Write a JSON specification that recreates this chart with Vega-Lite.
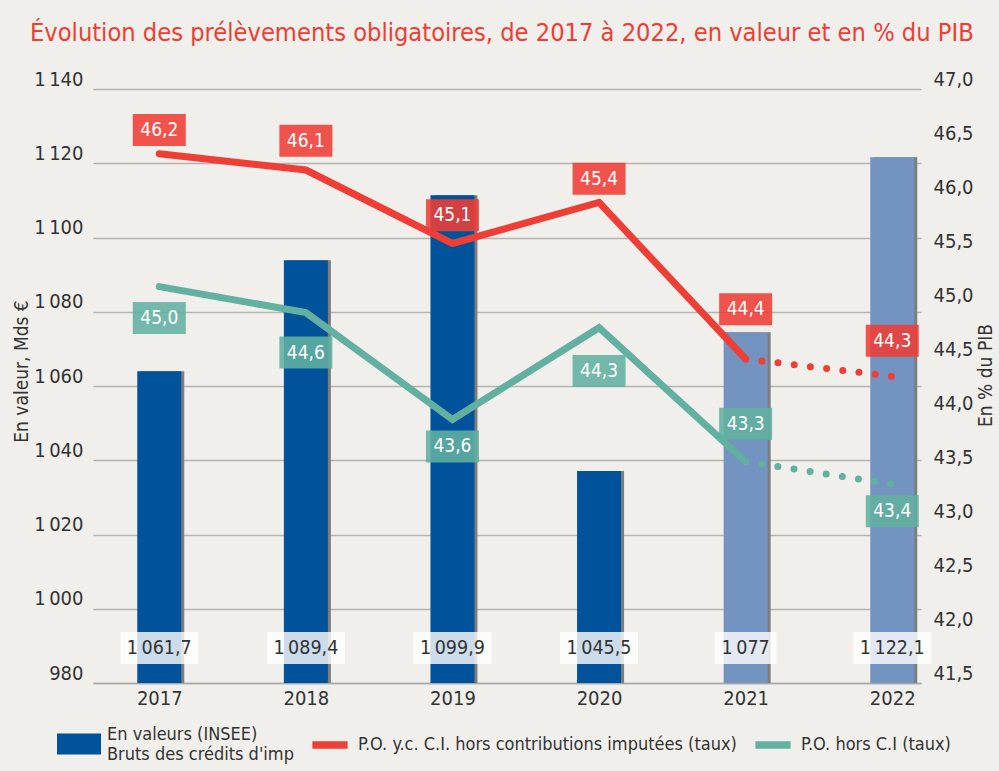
{
  "$schema": "https://vega.github.io/schema/vega-lite/v6.json",
  "width": 828,
  "height": 594,
  "autosize": {"type": "none"},
  "padding": {"left": 93, "top": 89, "right": 78, "bottom": 88},
  "background": "#f0efeb",
  "config": {
    "view": {"stroke": null},
    "font": "DejaVu Sans Condensed, Liberation Sans Narrow, Roboto Condensed, Roboto",
    "axis": {"labelFont": "DejaVu Sans Condensed, Liberation Sans Narrow, Roboto Condensed, Roboto", "titleFont": "DejaVu Sans Condensed, Liberation Sans Narrow, Roboto Condensed, Roboto", "labelColor": "#333333", "titleColor": "#333333", "titleFontWeight": "normal"}
  },
  "title": {
    "text": "Évolution des prélèvements obligatoires, de 2017 à 2022, en valeur et en % du PIB",
    "anchor": "start", "frame": "group", "font": "DejaVu Sans Condensed, Liberation Sans Narrow, Roboto Condensed, Roboto", "fontSize": 25.2, "fontWeight": "normal",
    "color": "#ee3e33", "dx": -63, "offset": 3, "baseline": "alphabetic"
  },
  "datasets": {
    "barres": [
      {"annee": 2017, "valeur": 1064.0, "etiquette": "1\u2009061,7", "serie": "En valeurs (INSEE)"},
      {"annee": 2018, "valeur": 1093.9, "etiquette": "1\u2009089,4", "serie": "En valeurs (INSEE)"},
      {"annee": 2019, "valeur": 1111.4, "etiquette": "1\u2009099,9", "serie": "En valeurs (INSEE)"},
      {"annee": 2020, "valeur": 1037.1, "etiquette": "1\u2009045,5", "serie": "En valeurs (INSEE)"},
      {"annee": 2021, "valeur": 1074.5, "etiquette": "1\u2009077", "serie": "En valeurs (INSEE)"},
      {"annee": 2022, "valeur": 1121.6, "etiquette": "1\u2009122,1", "serie": "En valeurs (INSEE)"}
    ],
    "taux": [
      {"annee": 2017, "serie": "P.O. y.c. C.I. hors contributions imputées (taux)", "taux": 46.40, "etiquette": "46,2", "pos": 46.62},
      {"annee": 2018, "serie": "P.O. y.c. C.I. hors contributions imputées (taux)", "taux": 46.25, "etiquette": "46,1", "pos": 46.52},
      {"annee": 2019, "serie": "P.O. y.c. C.I. hors contributions imputées (taux)", "taux": 45.57, "etiquette": "45,1", "pos": 45.83},
      {"annee": 2020, "serie": "P.O. y.c. C.I. hors contributions imputées (taux)", "taux": 45.95, "etiquette": "45,4", "pos": 46.17},
      {"annee": 2021, "serie": "P.O. y.c. C.I. hors contributions imputées (taux)", "taux": 44.50, "etiquette": "44,4", "pos": 44.96},
      {"annee": 2022, "serie": "P.O. y.c. C.I. hors contributions imputées (taux)", "taux": 44.34, "etiquette": "44,3", "pos": 44.67},
      {"annee": 2017, "serie": "P.O. hors C.I (taux)", "taux": 45.17, "etiquette": "45,0", "pos": 44.88},
      {"annee": 2018, "serie": "P.O. hors C.I (taux)", "taux": 44.93, "etiquette": "44,6", "pos": 44.56},
      {"annee": 2019, "serie": "P.O. hors C.I (taux)", "taux": 43.94, "etiquette": "43,6", "pos": 43.69},
      {"annee": 2020, "serie": "P.O. hors C.I (taux)", "taux": 44.79, "etiquette": "44,3", "pos": 44.39},
      {"annee": 2021, "serie": "P.O. hors C.I (taux)", "taux": 43.55, "etiquette": "43,3", "pos": 43.90},
      {"annee": 2022, "serie": "P.O. hors C.I (taux)", "taux": 43.34, "etiquette": "43,4", "pos": 43.09}
    ]
  },
  "encoding": {
    "x": {
      "field": "annee", "type": "quantitative",
      "scale": {"domain": [2016.582, 2022.162], "nice": false, "zero": false},
      "axis": {"values": [2017, 2018, 2019, 2020, 2021, 2022], "format": "d", "labelFontSize": 20, "labelPadding": 5, "ticks": false, "grid": false, "domainColor": "#a8a8a8", "domainWidth": 1.5, "title": null, "labelFlush": false, "labelOverlap": false}
    }
  },
  "layer": [
    {
      "data": {"name": "barres"},
      "layer": [
        {
          "mark": {"type": "bar", "size": 44, "xOffset": 3, "color": "#7d7d7d"},
          "encoding": {
            "y": {"field": "valeur", "type": "quantitative",
              "scale": {"domain": [980, 1140], "nice": false, "zero": false},
              "axis": {"orient": "left", "values": [980, 1000, 1020, 1040, 1060, 1080, 1100, 1120, 1140],
                "labelExpr": "replace(format(datum.value, ','), ',', '\u2009')",
                "labelFontSize": 20, "labelPadding": 10, "labelOffset": -10, "labelOverlap": false, "ticks": false, "domain": false,
                "grid": true, "gridColor": "#b3b3b3", "gridWidth": 1.3,
                "title": "En valeur, Mds €", "titleFontSize": 19, "titleX": -72, "titleY": 282, "titleBaseline": "middle", "titleAngle": 270}},
            "y2": {"datum": 980}
          }
        },
        {
          "mark": {"type": "bar", "size": 44},
          "encoding": {
            "y": {"field": "valeur", "type": "quantitative"},
            "y2": {"datum": 980},
            "color": {
              "condition": {"test": "datum.annee >= 2021", "value": "#7393c1"},
              "field": "serie", "type": "nominal",
              "scale": {"domain": ["En valeurs (INSEE)", "P.O. y.c. C.I. hors contributions imputées (taux)", "P.O. hors C.I (taux)"], "range": ["#00529b", "#ef3e36", "#61b0a0"]},
              "legend": {
                "orient": "none", "legendX": -36, "legendY": 624, "direction": "horizontal", "columns": 3, "title": null,
                "symbolSize": 1936, "labelFontSize": 18, "labelFont": "DejaVu Sans Condensed, Liberation Sans Narrow, Roboto Condensed, Roboto", "labelColor": "#333333",
                "labelLimit": 600, "labelOffset": 6, "columnPadding": 14, "padding": 0,
                "labelExpr": "datum.label == 'En valeurs (INSEE)' ? ['En valeurs (INSEE)', \"Bruts des crédits d'imp\"] : datum.label",
                "encode": {"symbols": {"update": {
                  "shape": {"signal": "datum.value == 'En valeurs (INSEE)' ? 'M-1,-0.07H1V0.89H-1Z' : 'M-0.8,-0.17H0.8V0.17H-0.8Z'"},
                  "fill": {"scale": "color", "field": "value"},
                  "stroke": {"value": "transparent"},
                  "strokeWidth": {"value": 0},
                  "opacity": {"value": 1}
                }}}
              }
            }
          }
        },
        {
          "mark": {"type": "tick", "orient": "horizontal", "thickness": 32, "color": "#ffffff", "opacity": 0.8, "yOffset": -35},
          "encoding": {
            "y": {"datum": 980},
            "size": {"condition": {"test": "length(datum.etiquette) < 6", "value": 62}, "value": 78}
          }
        },
        {
          "mark": {"type": "text", "fontSize": 19.5, "color": "#333333", "yOffset": -35, "baseline": "middle", "align": "center"},
          "encoding": {
            "y": {"datum": 980},
            "text": {"field": "etiquette"}
          }
        }
      ]
    },
    {
      "data": {"name": "taux"},
      "layer": [
        {
          "transform": [{"filter": "datum.annee <= 2021"}],
          "mark": {"type": "line", "strokeWidth": 7, "strokeCap": "round", "strokeJoin": "miter"},
          "encoding": {
            "y": {"field": "taux", "type": "quantitative",
              "scale": {"domain": [41.5, 47], "nice": false, "zero": false},
              "axis": {"orient": "right", "values": [41.5, 42, 42.5, 43, 43.5, 44, 44.5, 45, 45.5, 46, 46.5, 47],
                "labelExpr": "replace(format(datum.value, '.1f'), '.', ',')",
                "labelFontSize": 20, "labelPadding": 12, "labelOffset": -10, "labelOverlap": false, "ticks": false, "domain": false, "grid": false,
                "title": "En % du PIB", "titleFontSize": 19, "titleX": 64, "titleY": 286, "titleAngle": 270, "titleBaseline": "middle"}},
            "color": {"field": "serie", "type": "nominal"}
          }
        },
        {
          "transform": [{"filter": "datum.annee >= 2021"}],
          "mark": {"type": "line", "strokeWidth": 7, "strokeCap": "round", "strokeDash": [0, 16.3]},
          "encoding": {
            "y": {"field": "taux", "type": "quantitative"},
            "color": {"field": "serie", "type": "nominal"}
          }
        },
        {
          "mark": {"type": "tick", "orient": "horizontal", "thickness": 32, "size": 53, "opacity": 0.88},
          "encoding": {
            "y": {"field": "pos", "type": "quantitative"},
            "color": {"field": "serie", "type": "nominal"}
          }
        },
        {
          "mark": {"type": "text", "fontSize": 19, "color": "#ffffff", "baseline": "middle", "align": "center"},
          "encoding": {
            "y": {"field": "pos", "type": "quantitative"},
            "text": {"field": "etiquette"}
          }
        }
      ]
    }
  ],
  "resolve": {"scale": {"y": "independent"}}
}
